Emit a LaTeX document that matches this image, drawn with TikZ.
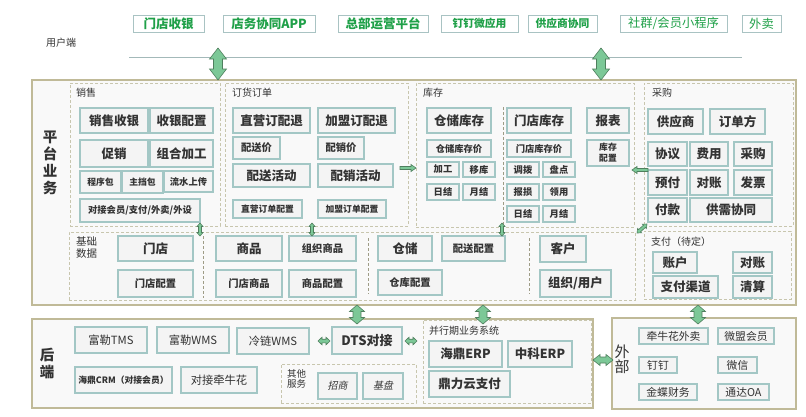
\documentclass[tikz,border=0pt]{standalone}
\usepackage{fontspec}
\setmainfont{Noto Sans CJK SC}
\newfontfamily\slantfont{Noto Sans CJK SC}[FakeSlant=0.2]
\definecolor{boxborder}{HTML}{A3C7C5}
\definecolor{boxfill}{HTML}{F4F4F4}
\definecolor{txt}{HTML}{333333}
\definecolor{gtxt}{HTML}{1FA048}
\definecolor{topborder}{HTML}{A9C3C3}
\definecolor{outerline}{HTML}{C0BA98}
\definecolor{outerfill}{HTML}{F9F9F9}
\definecolor{grpline}{HTML}{C8C6AE}
\definecolor{divline}{HTML}{9E9C86}
\definecolor{arrowfill}{HTML}{7CC897}
\definecolor{arrowline}{HTML}{4F7F5E}
\definecolor{uline}{HTML}{A3B9B9}
\tikzset{
  bx/.style={draw=boxborder,line width=1.1pt,fill=boxfill,text=txt,align=center},
  topbx/.style={draw=topborder,line width=1pt,fill=white,text=gtxt,align=center},
  grp/.style={draw=grpline,dash pattern=on 3pt off 2pt,line width=0.8pt},
  divl/.style={draw=divline,dash pattern=on 3pt off 2pt,line width=0.9pt},
  outerbx/.style={draw=outerline,line width=1.4pt,fill=outerfill},
  fatarrow/.style={draw=arrowline,fill=arrowfill,line width=0.6pt,line join=miter},
  lbl/.style={text=txt,inner sep=0pt,anchor=west,align=left},
  fbig/.style={font=\bfseries\fontsize{12.5}{14}\selectfont},
  fmid/.style={font=\bfseries\fontsize{10.3}{12}\selectfont},
  fsm/.style={font=\bfseries\fontsize{8.8}{11}\selectfont},
  fsn/.style={font=\bfseries\fontsize{9.3}{11}\selectfont},
  freg/.style={font=\fontsize{11.3}{13}\selectfont},
  fext/.style={font=\fontsize{10.8}{13}\selectfont},
  fdts/.style={font=\bfseries\fontsize{13}{15}\selectfont},
  fital/.style={font=\slantfont\fontsize{10}{12}\selectfont},
  ftopb/.style={font=\bfseries\fontsize{12.5}{14}\selectfont},
  ftops/.style={font=\bfseries\fontsize{10.8}{13}\selectfont},
  ftopr/.style={font=\fontsize{12.3}{14}\selectfont},
  flab/.style={font=\fontsize{10}{11.5}\selectfont},
  pics/dblarrow/.style args={#1/#2/#3/#4}{code={
    \draw[fatarrow] (-#1,0) -- (-#1+#4,#3) -- (-#1+#4,#2) -- (#1-#4,#2) -- (#1-#4,#3) -- (#1,0)
      -- (#1-#4,-#3) -- (#1-#4,-#2) -- (-#1+#4,-#2) -- (-#1+#4,-#3) -- cycle;
  }},
  pics/sglarrow/.style args={#1/#2/#3/#4}{code={
    \draw[fatarrow] (-#1,-#2) -- (#1-#4,-#2) -- (#1-#4,-#3) -- (#1,0) -- (#1-#4,#3) -- (#1-#4,#2) -- (-#1,#2) -- cycle;
  }},
}
\newcommand\rectnode[7][]{\node[#1,inner sep=0pt,minimum width={(#4-#2)*1pt},minimum height={(#5-#3)*1pt}] (#6) at ({(#2+#4)/2},{(#3+#5)/2}) {#7};}
\begin{document}
\begin{tikzpicture}[x=1pt,y=-1pt]
\useasboundingbox (0,0) rectangle (806,416);
% user layer
\rectnode[topbx,ftopb]{133}{15}{204}{32}{u1}{门店收银}
\rectnode[topbx,ftopb]{223}{15}{315}{32}{u2}{店务协同APP}
\rectnode[topbx,ftopb]{338}{15}{428}{32}{u3}{总部运营平台}
\rectnode[topbx,ftops]{441}{15}{518}{32}{u4}{钉钉微应用}
\rectnode[topbx,ftops]{528}{15}{597}{32}{u5}{供应商协同}
\rectnode[topbx,ftopr]{620}{15}{727}{32}{u6}{社群/会员小程序}
\rectnode[topbx,ftopr]{742}{15}{781}{32}{u7}{外卖}
\node[flab,text=txt] (uend) at (61,43) {用户端};
\coordinate (ul1) at (129,57);
\coordinate (ul2) at (742,57);
\draw[uline,line width=1pt] (ul1) -- (ul2);

% platform
\rectnode[outerbx]{32}{80}{796}{305}{plat}{}
\node[font=\bfseries\fontsize{14.5}{17}\selectfont,text=txt,align=center] (platlbl) at (50,163) {平\\台\\业\\务};

% sales
\rectnode[grp]{70}{83}{220}{226}{gsales}{}
\node[lbl,flab] (lsales) at (76,93) {销售};
\rectnode[bx,fbig]{80}{108}{148}{133}{s1}{销售收银}
\rectnode[bx,fbig]{150}{108}{213}{133}{s2}{收银配置}
\rectnode[bx,fbig]{80}{140}{148}{167}{s3}{促销}
\rectnode[bx,fbig]{150}{140}{213}{167}{s4}{组合加工}
\rectnode[bx,fsm]{80}{171}{121}{193}{s5}{程序包}
\rectnode[bx,fsm]{122}{171}{163}{193}{s6}{主挡包}
\rectnode[bx,fsn]{164}{171}{213}{192}{s7}{流水上传}
\rectnode[bx,fsn]{80}{199}{200}{222}{s8}{对接会员/支付/外卖/外设}

% orders
\rectnode[grp]{225}{83}{408}{226}{gorder}{}
\node[lbl,flab] (lorder) at (232,93) {订货订单};
\rectnode[bx,fbig]{233}{108}{310}{133}{o1}{直营订配退}
\rectnode[bx,fbig]{318}{108}{395}{133}{o2}{加盟订配退}
\rectnode[bx,fmid]{233}{137}{280}{159}{o3}{配送价}
\rectnode[bx,fmid]{318}{137}{364}{159}{o4}{配销价}
\rectnode[bx,fbig]{233}{164}{310}{187}{o5}{配送活动}
\rectnode[bx,fbig]{318}{164}{393}{187}{o6}{配销活动}
\rectnode[bx,fsm]{233}{200}{302}{218}{o7}{直营订单配置}
\rectnode[bx,fsm]{318}{200}{386}{218}{o8}{加盟订单配置}

% inventory
\rectnode[grp]{416}{83}{634}{227}{ginv}{}
\node[lbl,flab] (linv) at (423,93) {库存};
\coordinate (dv1a) at (503,107);
\coordinate (dv1b) at (503,227);
\draw[divl] (dv1a) -- (dv1b);
\rectnode[bx,fbig]{427}{108}{491}{133}{i1}{仓储库存}
\rectnode[bx,fsn]{427}{140}{491}{157}{i2}{仓储库存价}
\rectnode[bx,fsn]{427}{162}{459}{177}{i3}{加工}
\rectnode[bx,fsn]{463}{162}{495}{177}{i4}{移库}
\rectnode[bx,fsn]{427}{184}{459}{200}{i5}{日结}
\rectnode[bx,fsn]{463}{184}{495}{200}{i6}{月结}
\rectnode[bx,fbig]{507}{108}{571}{133}{i7}{门店库存}
\rectnode[bx,fsn]{507}{140}{571}{157}{i8}{门店库存价}
\rectnode[bx,fsn]{507}{162}{539}{177}{i9}{调拨}
\rectnode[bx,fsn]{543}{162}{575}{177}{i10}{盘点}
\rectnode[bx,fsn]{507}{184}{539}{200}{i11}{报损}
\rectnode[bx,fsn]{543}{184}{575}{200}{i12}{领用}
\rectnode[bx,fsn]{507}{206}{539}{222}{i13}{日结}
\rectnode[bx,fsn]{543}{206}{575}{222}{i14}{月结}
\rectnode[bx,fbig]{587}{108}{629}{133}{i15}{报表}
\rectnode[bx,fsm]{587}{140}{629}{166}{i16}{库存\\配置}

% purchase
\rectnode[grp]{644}{83}{793}{226}{gpur}{}
\node[lbl,flab] (lpur) at (652,93) {采购};
\rectnode[bx,fbig]{648}{109}{703}{134}{p1}{供应商}
\rectnode[bx,fbig]{710}{109}{765}{134}{p2}{订单方}
\rectnode[bx,fbig]{648}{142}{687}{166}{p3}{协议}
\rectnode[bx,fbig]{690}{142}{728}{166}{p4}{费用}
\rectnode[bx,fbig]{734}{142}{772}{166}{p5}{采购}
\rectnode[bx,fbig]{648}{170}{687}{195}{p6}{预付}
\rectnode[bx,fbig]{690}{170}{728}{195}{p7}{对账}
\rectnode[bx,fbig]{734}{170}{772}{195}{p8}{发票}
\rectnode[bx,fbig]{648}{198}{687}{222}{p9}{付款}
\rectnode[bx,fbig]{690}{198}{772}{222}{p10}{供需协同}

% base data
\rectnode[grp]{69}{232}{635}{300}{gbase}{}
\node[lbl,font=\fontsize{10.5}{11.5}\selectfont] (lbase) at (76,247.5) {基础\\数据};
\coordinate (dv2a) at (203,236);
\coordinate (dv2b) at (203,298);
\coordinate (dv3a) at (368,238);
\coordinate (dv3b) at (368,294);
\coordinate (dv4a) at (529,238);
\coordinate (dv4b) at (529,294);
\draw[divl] (dv2a) -- (dv2b);
\draw[divl] (dv3a) -- (dv3b);
\draw[divl] (dv4a) -- (dv4b);
\rectnode[bx,fbig]{118}{236}{193}{261}{b1}{门店}
\rectnode[bx,fmid]{118}{270}{193}{297}{b2}{门店配置}
\rectnode[bx,fbig]{216}{236}{282}{261}{b3}{商品}
\rectnode[bx,fmid]{289}{236}{356}{261}{b4}{组织商品}
\rectnode[bx,fmid]{216}{270}{282}{297}{b5}{门店商品}
\rectnode[bx,fmid]{289}{270}{356}{297}{b6}{商品配置}
\rectnode[bx,fbig]{378}{236}{432}{261}{b7}{仓储}
\rectnode[bx,fmid]{442}{236}{505}{261}{b8}{配送配置}
\rectnode[bx,fmid]{378}{270}{442}{295}{b9}{仓库配置}
\rectnode[bx,fbig]{540}{236}{586}{262}{b10}{客户}
\rectnode[bx,fbig]{540}{270}{611}{297}{b11}{组织/用户}

% payment
\rectnode[grp]{644}{231}{791}{299}{gpay}{}
\node[lbl,flab] (lpay) at (651,242) {支付（待定）};
\rectnode[bx,fbig]{653}{252}{697}{273}{y1}{账户}
\rectnode[bx,fbig]{733}{252}{772}{273}{y2}{对账}
\rectnode[bx,fbig]{653}{276}{718}{298}{y3}{支付渠道}
\rectnode[bx,fbig]{733}{276}{772}{298}{y4}{清算}

% backend
\rectnode[outerbx]{32}{319}{593}{408}{back}{}
\node[font=\bfseries\fontsize{14.5}{17}\selectfont,text=txt,align=center] (backlbl) at (47,363.5) {后\\端};
\rectnode[bx,freg]{75}{327}{147}{353}{k1}{富勒TMS}
\rectnode[bx,freg]{157}{327}{229}{353}{k2}{富勒WMS}
\rectnode[bx,freg]{237}{328}{309}{354}{k3}{冷链WMS}
\rectnode[bx,fdts]{332}{327}{402}{354}{dts}{DTS对接}
\rectnode[bx,fsm]{75}{367}{172}{393}{k5}{海鼎CRM（对接会员）}
\rectnode[bx,freg]{181}{367}{257}{393}{k6}{对接牵牛花}
\rectnode[grp]{281}{364}{416}{403}{gother}{}
\node[lbl,font=\fontsize{9.5}{10.5}\selectfont] (lother) at (287,379) {其他\\服务};
\rectnode[bx,fital]{318}{373}{357}{399}{k7}{招商}
\rectnode[bx,fital]{363}{373}{403}{399}{k8}{基盘}
\rectnode[grp]{423}{320}{591}{403}{gpar}{}
\node[lbl,flab] (lpar) at (429,331) {并行期业务系统};
\rectnode[bx,fbig]{429}{341}{502}{367}{e1}{海鼎ERP}
\rectnode[bx,fbig]{508}{341}{572}{367}{e2}{中科ERP}
\rectnode[bx,fbig]{429}{371}{510}{397}{e3}{鼎力云支付}

% external
\rectnode[outerbx]{612}{318}{796}{409}{ext}{}
\node[font=\fontsize{15}{15}\selectfont,text=txt,align=center] (extlbl) at (622,359.5) {外\\部};
\rectnode[bx,fext]{639}{328}{708}{344}{x1}{牵牛花外卖}
\rectnode[bx,fext]{718}{328}{774}{344}{x2}{微盟会员}
\rectnode[bx,fext]{639}{357}{677}{373}{x3}{钉钉}
\rectnode[bx,fext]{718}{357}{757}{373}{x4}{微信}
\rectnode[bx,fext]{639}{384}{697}{400}{x5}{金蝶财务}
\rectnode[bx,fext]{718}{384}{769}{400}{x6}{通达OA}

% arrows
\pic[rotate=90] at (218,64) {dblarrow=16/4.5/8.5/11};
\pic[rotate=90] at (601,64) {dblarrow=16/4.5/8.5/11};
\pic[rotate=90] at (357,314.5) {dblarrow=9.5/4/7.5/6.5};
\pic[rotate=90] at (483,314.5) {dblarrow=9.5/4/7.5/6.5};
\pic[rotate=90] at (698,314.5) {dblarrow=9.5/4/7.5/6.5};
\pic at (603,360) {dblarrow=10/3/5.5/7};
\pic[rotate=90] at (200,229.5) {dblarrow=6.5/1.5/3/3.5};
\pic[rotate=90] at (312,229.5) {dblarrow=6.5/1.5/3/3.5};
\pic[rotate=90] at (502,229.5) {dblarrow=6.5/1.5/3/3.5};
\pic at (324,341) {dblarrow=6/1.8/3.8/4};
\pic at (411,341) {dblarrow=6/1.8/3.8/4};
\pic at (408,168) {sglarrow=8/1.5/3.5/5};
\pic[rotate=180] at (640,170) {sglarrow=8/1.5/3.5/5};
\pic[rotate=42] at (642,228.5) {dblarrow=6.7/1.5/3/3.5};
\end{tikzpicture}
\end{document}
